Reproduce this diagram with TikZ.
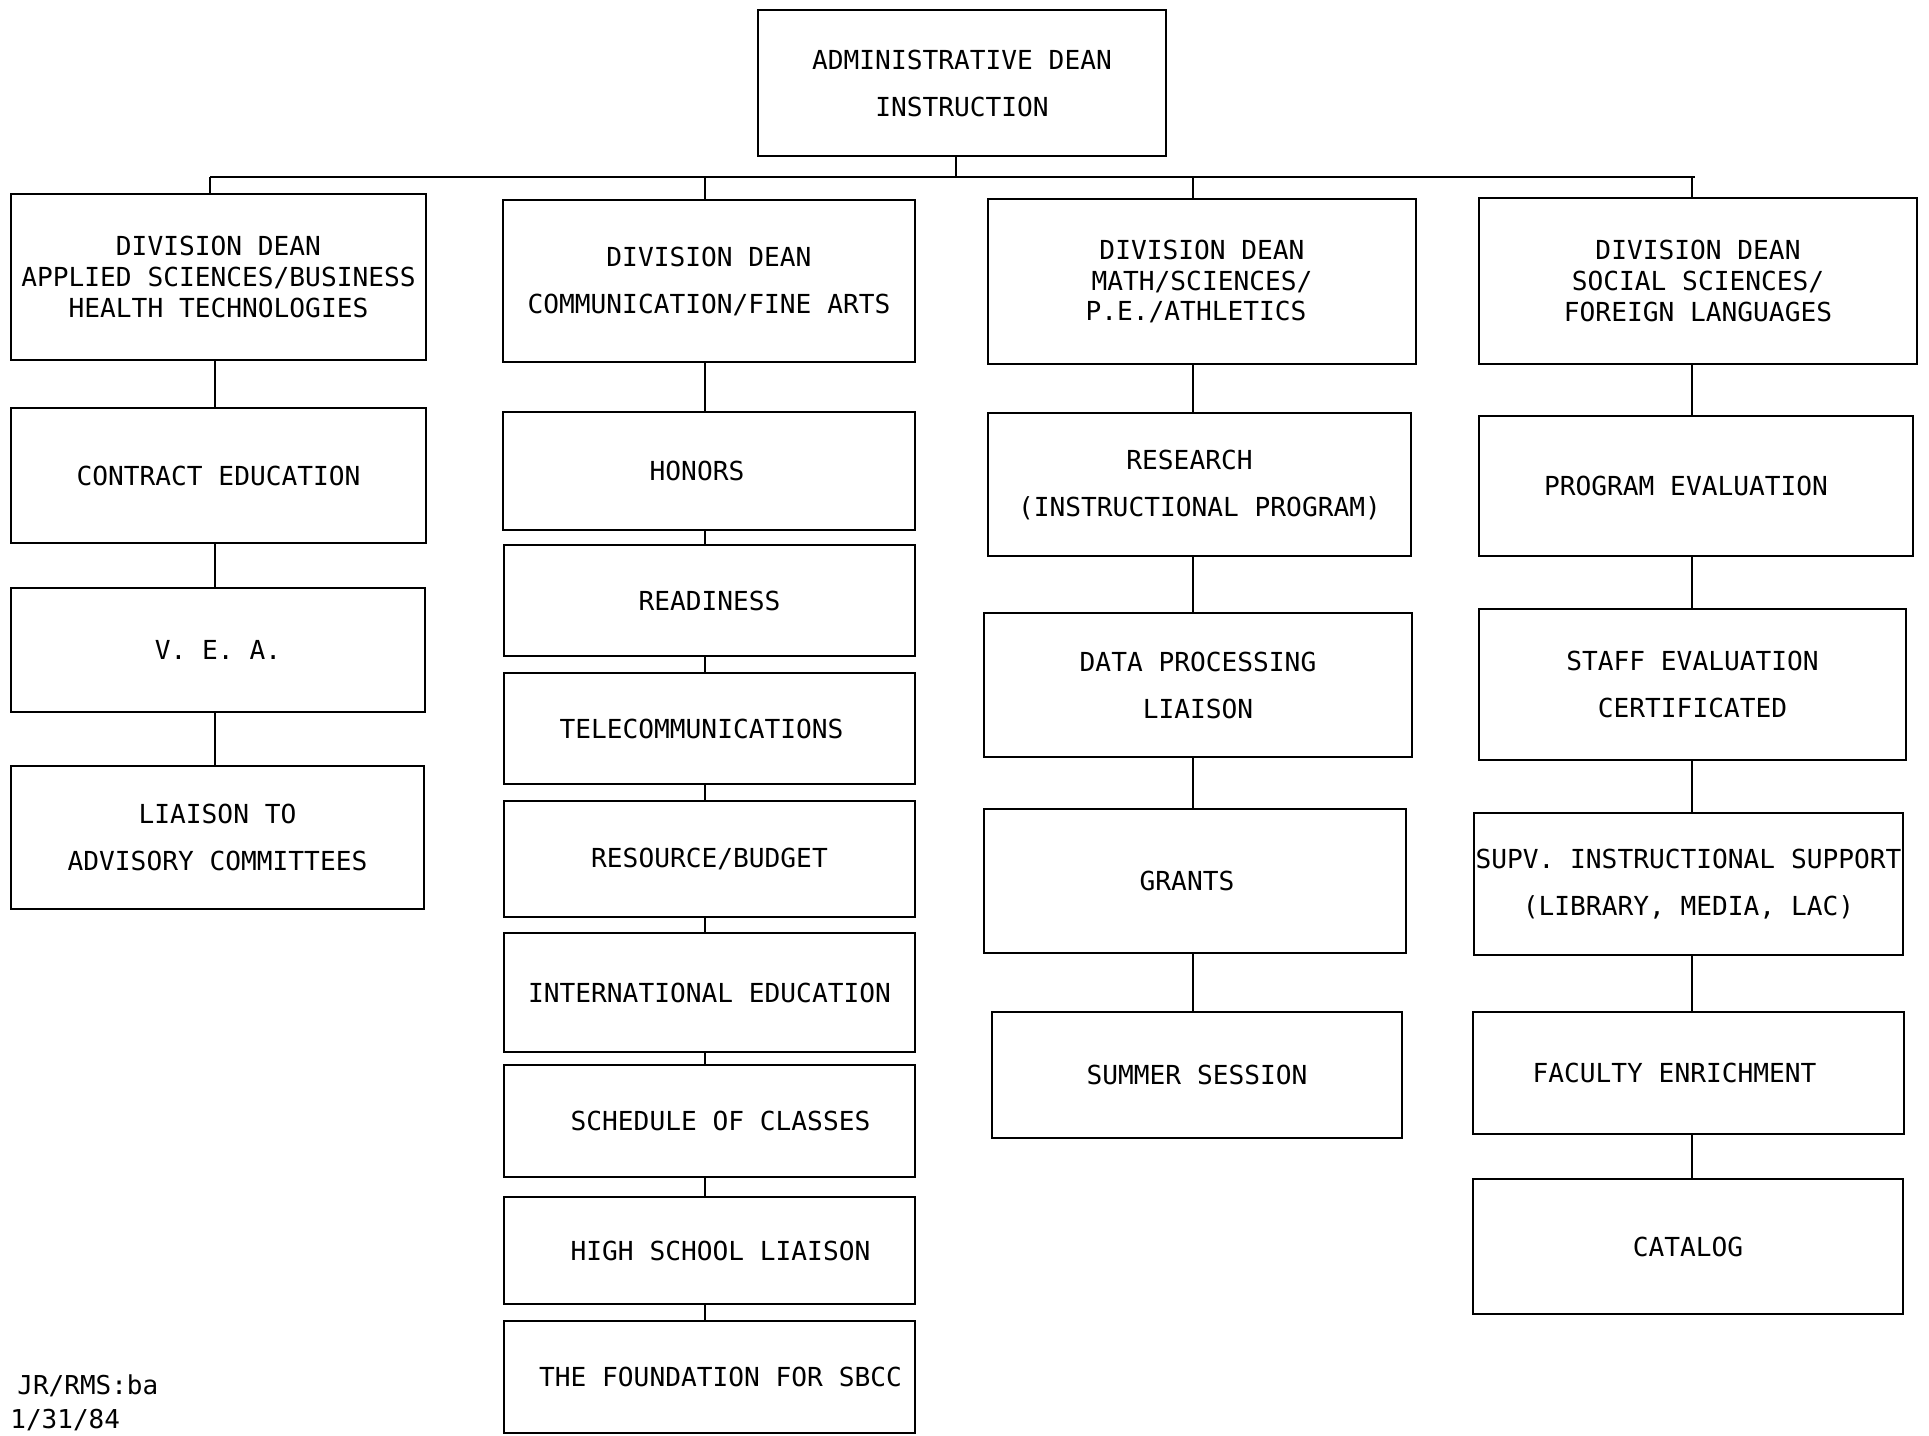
\documentclass[tikz,border=0pt]{standalone}
\usepackage{fontspec}
\setmainfont{DejaVu Sans Mono}
\begin{document}
\begin{tikzpicture}[x=0.5pt,y=-0.5pt,
  box/.style={draw, line width=1.2pt, inner sep=0pt, outer sep=0pt, align=center,
    font={\fontsize{13.1}{23.5}\selectfont}},
  tight/.style={font={\fontsize{13.1}{15.3}\selectfont}},
  conn/.style={line width=0.8pt},
  foot/.style={anchor=west, inner sep=0pt, font={\fontsize{13}{15}\selectfont}}]
\useasboundingbox (0,0) rectangle (1929,1436);
\newcommand\bx[7][]{\node[box,#1, minimum width={(#4-#2)*0.5pt}, minimum height={(#5-#3)*0.5pt}] (#6) at ({(#2+#4)/2},{(#3+#5)/2}) {#7};}
% top
\bx{758}{10}{1166}{156}{top}{ADMINISTRATIVE DEAN\\INSTRUCTION}
% column 1
\bx[tight]{11}{194}{426}{360}{d1}{DIVISION DEAN\\APPLIED SCIENCES/BUSINESS\\HEALTH TECHNOLOGIES}
\bx{11}{408}{426}{543}{a1}{CONTRACT EDUCATION}
\bx{11}{588}{425}{712}{a2}{V. E. A.}
\bx{11}{766}{424}{909}{a3}{LIAISON TO\\ADVISORY COMMITTEES}
% column 2
\bx{503}{200}{915}{362}{d2}{DIVISION DEAN\\COMMUNICATION/FINE ARTS}
\bx{503}{412}{915}{530}{b1}{HONORS\hspace*{12pt}}
\bx{504}{545}{915}{656}{b2}{READINESS}
\bx{504}{673}{915}{784}{b3}{TELECOMMUNICATIONS\hspace*{8pt}}
\bx{504}{801}{915}{917}{b4}{RESOURCE/BUDGET}
\bx{504}{933}{915}{1052}{b5}{INTERNATIONAL EDUCATION}
\bx{504}{1065}{915}{1177}{b6}{\hspace*{11pt}SCHEDULE OF CLASSES}
\bx{504}{1197}{915}{1304}{b7}{\hspace*{11pt}HIGH SCHOOL LIAISON}
\bx{504}{1321}{915}{1433}{b8}{\hspace*{11pt}THE FOUNDATION FOR SBCC}
% column 3
\bx[tight]{988}{199}{1416}{364}{d3}{DIVISION DEAN\\MATH/SCIENCES/\\P.E./ATHLETICS\hspace*{6pt}}
\bx{988}{413}{1411}{556}{c1}{RESEARCH\hspace*{10pt}\\(INSTRUCTIONAL PROGRAM)}
\bx{984}{613}{1412}{757}{c2}{DATA PROCESSING\\LIAISON}
\bx{984}{809}{1406}{953}{c3}{GRANTS\hspace*{8pt}}
\bx{992}{1012}{1402}{1138}{c4}{SUMMER SESSION}
% column 4
\bx[tight]{1479}{198}{1917}{364}{d4}{DIVISION DEAN\\SOCIAL SCIENCES/\\FOREIGN LANGUAGES}
\bx{1479}{416}{1913}{556}{e1}{PROGRAM EVALUATION\hspace*{10pt}}
\bx{1479}{609}{1906}{760}{e2}{STAFF EVALUATION\\CERTIFICATED}
\bx{1474}{813}{1903}{955}{e3}{SUPV. INSTRUCTIONAL SUPPORT\\(LIBRARY, MEDIA, LAC)}
\bx{1473}{1012}{1904}{1134}{e4}{FACULTY ENRICHMENT\hspace*{14pt}}
\bx{1473}{1179}{1903}{1314}{e5}{CATALOG}
% stems
\coordinate (s0) at (956,177);
\coordinate (s1) at (215,0);
\coordinate (s2) at (705,0);
\coordinate (s3) at (1193,0);
\coordinate (s4) at (1692,0);
\coordinate (busL) at (210,177);
\coordinate (busR) at (1695,177);
\draw[conn] (top.south -| s0) -- (s0);
\draw[line width=1.2pt] (busL) -- (busR);
\draw[conn] (busL) -- (busL |- d1.north);
\draw[conn] (s0 -| s2) -- (d2.north -| s2);
\draw[conn] (s0 -| s3) -- (d3.north -| s3);
\draw[conn] (s0 -| s4) -- (d4.north -| s4);
\foreach \p/\q in {d1/a1,a1/a2,a2/a3}{\draw[conn] (\p.south -| s1) -- (\q.north -| s1);}
\foreach \p/\q in {d2/b1,b1/b2,b2/b3,b3/b4,b4/b5,b5/b6,b6/b7,b7/b8}{\draw[conn] (\p.south -| s2) -- (\q.north -| s2);}
\foreach \p/\q in {d3/c1,c1/c2,c2/c3,c3/c4}{\draw[conn] (\p.south -| s3) -- (\q.north -| s3);}
\foreach \p/\q in {d4/e1,e1/e2,e2/e3,e3/e4,e4/e5}{\draw[conn] (\p.south -| s4) -- (\q.north -| s4);}
% footer
\node[foot] (f1) at (17,1386) {JR/RMS:ba};
\node[foot] (f2) at (10,1420) {1/31/84};
\end{tikzpicture}
\end{document}
